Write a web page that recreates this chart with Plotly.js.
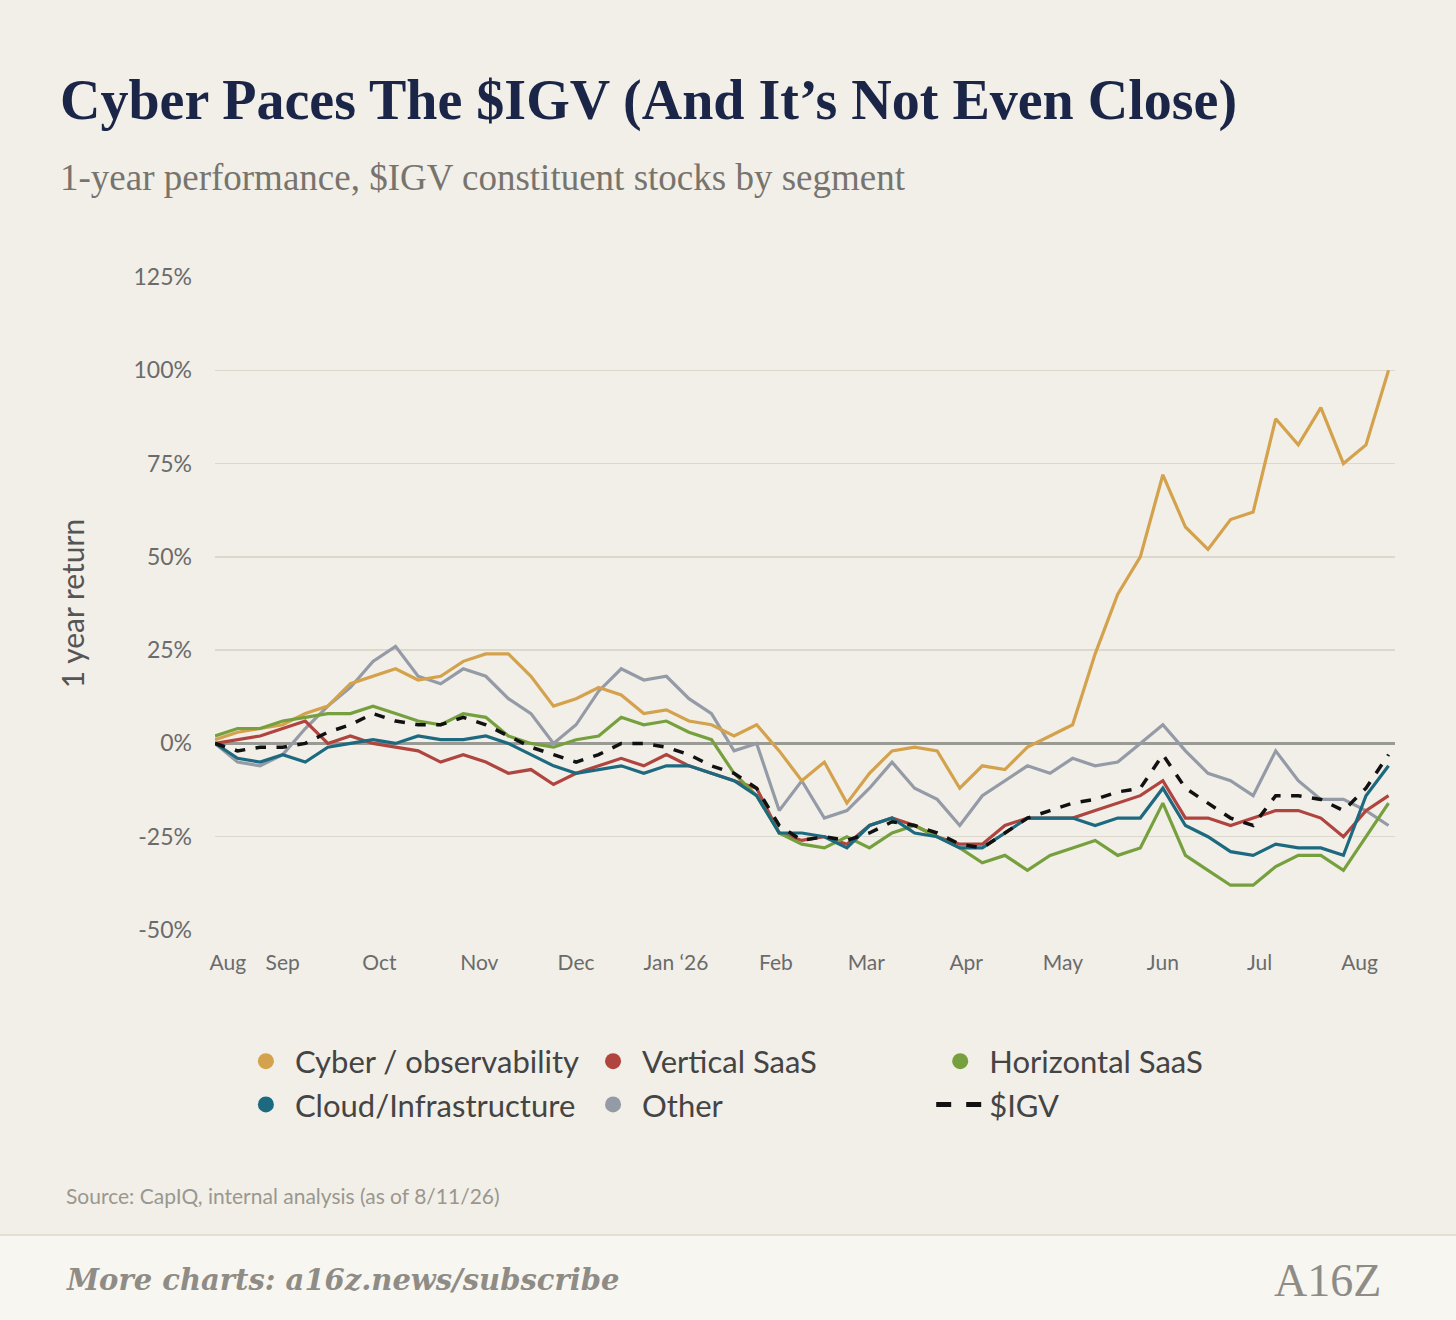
<!DOCTYPE html>
<html>
<head>
<meta charset="utf-8">
<script src="https://cdn.plot.ly/plotly-3.0.1.min.js"></script>
<style>
  body { margin: 0; background: #f1efe8; }
  #chart { width: 1456px; height: 1320px; }
</style>
</head>
<body>
<div id="chart"></div>
<script>
// weekly closes, starting 2025-08-11
var cyber = [1,3,4,5,8,10,16,18,20,17,18,22,24,24,18,10,12,15,13,8,9,6,5,2,5,-2,-10,-5,-16,-8,-2,-1,-2,-12,-6,-7,-1,2,5,24,40,50,72,58,52,60,62,87,80,90,75,80,100];
var vertical = [0,1,2,4,6,0,2,0,-1,-2,-5,-3,-5,-8,-7,-11,-8,-6,-4,-6,-3,-6,-8,-10,-12,-24,-26,-25,-27,-22,-20,-22,-25,-27,-27,-22,-20,-20,-20,-18,-16,-14,-10,-20,-20,-22,-20,-18,-18,-20,-25,-18,-14];
var horizontal = [2,4,4,6,7,8,8,10,8,6,5,8,7,2,0,-1,1,2,7,5,6,3,1,-8,-14,-24,-27,-28,-25,-28,-24,-22,-25,-28,-32,-30,-34,-30,-28,-26,-30,-28,-16,-30,-34,-38,-38,-33,-30,-30,-34,-25,-16];
var cloud = [0,-4,-5,-3,-5,-1,0,1,0,2,1,1,2,0,-3,-6,-8,-7,-6,-8,-6,-6,-8,-10,-14,-24,-24,-25,-28,-22,-20,-24,-25,-28,-28,-24,-20,-20,-20,-22,-20,-20,-12,-22,-25,-29,-30,-27,-28,-28,-30,-14,-6];
var other = [0,-5,-6,-3,4,10,15,22,26,18,16,20,18,12,8,0,5,14,20,17,18,12,8,-2,0,-18,-10,-20,-18,-12,-5,-12,-15,-22,-14,-10,-6,-8,-4,-6,-5,0,5,-2,-8,-10,-14,-2,-10,-15,-15,-18,-22];
var igv = [0,-2,-1,-1,0,3,5,8,6,5,5,7,5,2,-1,-3,-5,-3,0,0,-1,-3,-6,-8,-12,-22,-26,-25,-26,-24,-21,-22,-24,-27,-28,-24,-20,-18,-16,-15,-13,-12,-3,-12,-16,-20,-22,-14,-14,-15,-18,-12,-3];

var tickDates = ['2025-08-15','2025-09-01','2025-10-01','2025-11-01','2025-12-01','2026-01-01','2026-02-01','2026-03-01','2026-04-01','2026-05-01','2026-06-01','2026-07-01','2026-08-01'];
var tickLabels = ['Aug','Sep','Oct','Nov','Dec','Jan \u201826','Feb','Mar','Apr','May','Jun','Jul','Aug'];
var yTicks = [-50, -25, 0, 25, 50, 75, 100, 125];
var yLabels = ['-50%', '-25%', '0%', '25%', '50%', '75%', '100%', '125%'];

var dates = [];
var start = new Date(Date.UTC(2025, 7, 11));
for (var i = 0; i < cyber.length; i++) {
    var d = new Date(start.getTime() + i * 7 * 86400000);
    dates.push(d.toISOString().slice(0, 10));
}

var series = [
    {name: 'Cyber / observability', y: cyber, color: '#d4a24c'},
    {name: 'Vertical SaaS', y: vertical, color: '#b0443f'},
    {name: 'Horizontal SaaS', y: horizontal, color: '#76a03e'},
    {name: 'Cloud/Infrastructure', y: cloud, color: '#1d6a80'},
    {name: 'Other', y: other, color: '#959ba6'}
];

var traces = [];
// lines, drawn back to front
[4, 0, 1, 2, 3].forEach(function (j) {
    var s = series[j];
    traces.push({x: dates, y: s.y, type: 'scatter', mode: 'lines', showlegend: false,
        line: {color: s.color, width: 3.2}, hoverinfo: 'skip'});
});
traces.push({x: dates, y: igv, type: 'scatter', mode: 'lines', showlegend: false,
    line: {color: '#111111', width: 3.5, dash: 'dash'}});

// legend entries with dots
series.forEach(function (s) {
    traces.push({x: [null], y: [null], type: 'scatter', mode: 'markers', name: s.name,
        marker: {color: s.color, size: 30, symbol: 'circle'}});
});
traces.push({x: [null], y: [null], type: 'scatter', mode: 'lines', name: '$IGV',
    line: {color: '#111111', width: 5, dash: 'dash'}});

var grey = '#6b6b6b';
var layout = {
    width: 1456, height: 1320,
    paper_bgcolor: '#f1efe8', plot_bgcolor: '#f1efe8',
    margin: {l: 215, r: 61, t: 277, b: 390},
    showlegend: true,
    legend: {orientation: 'h', x: 0.43, xanchor: 'center', y: -0.16, yanchor: 'top',
        font: {family: 'Lato, "Open Sans", sans-serif', size: 31, color: '#444'},
        itemsizing: 'trace', itemwidth: 48, tracegroupgap: 0},
    xaxis: {
        type: 'date', range: ['2025-08-11', '2026-08-12'],
        tickvals: tickDates, ticktext: tickLabels,
        showgrid: false, zeroline: false, showline: false, ticks: '',
        ticklabelstandoff: 18,
        tickfont: {family: 'Lato, sans-serif', size: 21, color: grey}
    },
    yaxis: {
        range: [-50, 125], tickvals: yTicks, ticktext: yLabels,
        showgrid: true, gridcolor: '#dcd8cc', gridwidth: 1.5,
        zeroline: true, zerolinecolor: '#9a9a94', zerolinewidth: 3,
        ticks: '', ticklen: 0, showline: false, ticklabelstandoff: 22,
        tickfont: {family: 'Lato, sans-serif', size: 23, color: grey},
        title: {text: '1 year return', standoff: 40,
            font: {family: 'Lato, sans-serif', size: 30, color: '#555'}}
    },
    shapes: [
        {type: 'rect', xref: 'paper', yref: 'paper', x0: -0.2, x1: 1.06, y0: -0.467, y1: -0.6,
            fillcolor: '#f7f6f1', line: {width: 0}, layer: 'below'},
        {type: 'line', xref: 'paper', yref: 'paper', x0: -0.2, x1: 1.06, y0: -0.467, y1: -0.467,
            line: {color: '#e3dfd3', width: 2}}
    ],
    annotations: [
        {text: '<b>Cyber Paces The $IGV (And It\u2019s Not Even Close)</b>', xref: 'paper', yref: 'paper',
            x: -0.133, y: 1.271, xanchor: 'left', yanchor: 'middle', showarrow: false,
            font: {family: '"Liberation Serif", "DejaVu Serif", serif', size: 56, color: '#1b2547'}},
        {text: '1-year performance, $IGV constituent stocks by segment', xref: 'paper', yref: 'paper',
            x: -0.133, y: 1.152, xanchor: 'left', yanchor: 'middle', showarrow: false,
            font: {family: '"Liberation Serif", serif', size: 37, color: '#77746d'}},
        {text: 'Source: CapIQ, internal analysis (as of 8/11/26)', xref: 'paper', yref: 'paper',
            x: -0.128, y: -0.407, xanchor: 'left', yanchor: 'middle', showarrow: false,
            font: {family: 'Lato, sans-serif', size: 21, color: '#9a978f'}},
        {text: '<b><i>More charts: a16z.news/subscribe</i></b>', xref: 'paper', yref: 'paper',
            x: -0.128, y: -0.536, xanchor: 'left', yanchor: 'middle', showarrow: false,
            font: {family: '"DejaVu Serif", serif', size: 29, color: '#8f8c86'}},
        {text: 'A16Z', xref: 'paper', yref: 'paper',
            x: 0.99, y: -0.536, xanchor: 'right', yanchor: 'middle', showarrow: false,
            font: {family: '"Liberation Serif", serif', size: 46, color: '#8f8c86'}}
    ]
};

Plotly.newPlot('chart', traces, layout, {staticPlot: true});
</script>
</body>
</html>
